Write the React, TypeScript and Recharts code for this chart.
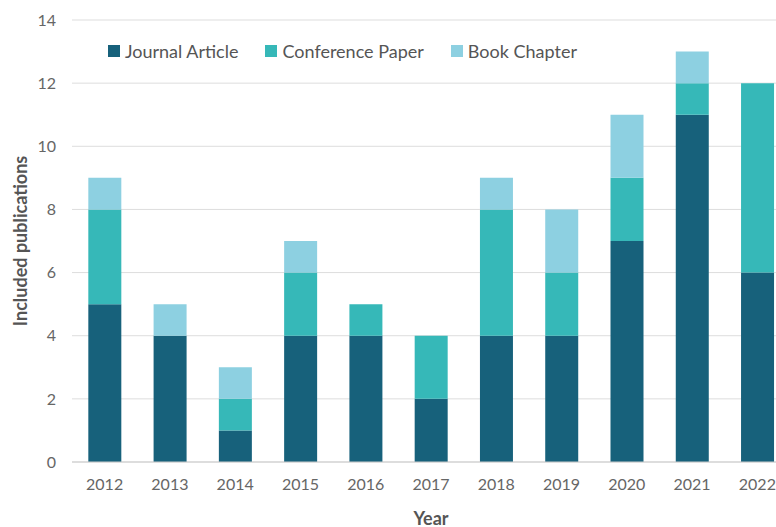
import React from 'react';
import { BarChart, Bar, XAxis, YAxis, CartesianGrid, Label } from 'recharts';

const years = ['2012', '2013', '2014', '2015', '2016', '2017', '2018', '2019', '2020', '2021', '2022'];
const journalArticle = [5, 4, 1, 4, 4, 2, 4, 4, 7, 11, 6];
const conferencePaper = [3, 0, 1, 2, 1, 2, 4, 2, 2, 1, 6];
const bookChapter = [1, 1, 1, 1, 0, 0, 1, 2, 2, 1, 0];
const yTicks = [0, 2, 4, 6, 8, 10, 12, 14];

const series = [
  { key: 'journal', name: 'Journal Article', color: '#17617b' },
  { key: 'conference', name: 'Conference Paper', color: '#36b8b8' },
  { key: 'book', name: 'Book Chapter', color: '#8dd0e1' },
];

const data = years.map((y, i) => ({
  year: y,
  journal: journalArticle[i],
  conference: conferencePaper[i],
  book: bookChapter[i],
}));

const FONT = 'Lato, "Open Sans", sans-serif';

const LegendBox = () => (
  <div style={{ position: 'absolute', top: 39, left: 108, display: 'flex', fontFamily: FONT, fontSize: 18, color: '#555', lineHeight: '24px', whiteSpace: 'nowrap' }}>
    {series.map((s, i) => (
      <div key={s.key} style={{ display: 'flex', alignItems: 'center', marginRight: i < 2 ? 27 : 0 }}>
        <span style={{ display: 'inline-block', width: 12, height: 12, background: s.color, marginRight: 5 }} />
        <span>{s.name}</span>
      </div>
    ))}
  </div>
);

const YLabel = (props: any) => {
  const vb = props.viewBox || {};
  const cy = vb.y + vb.height / 2;
  const x = 20;
  return (
    <text x={x} y={cy} transform={`rotate(-90, ${x}, ${cy})`} textAnchor="middle" dominantBaseline="central" fill="#555" fontSize={18} fontWeight="bold" fontFamily={FONT}>
      Included publications
    </text>
  );
};

export default function App() {
  return (
    <div style={{ position: 'fixed', top: 0, left: 0, width: 776, height: 527, overflow: 'hidden', background: '#fff' }}>
      <BarChart
        width={790}
        height={527}
        data={data}
        margin={{ top: 20, right: 0, bottom: 0, left: 0 }}
        barCategoryGap="25%"
      >
        <CartesianGrid vertical={false} stroke="#dddddd" />
        <XAxis
          dataKey="year"
          height={65}
          tickLine={false}
          axisLine={{ stroke: '#cccccc' }}
          tick={{ fill: '#666', fontSize: 16, fontFamily: FONT }}
          tickMargin={11}
        >
          <Label value="Year" position="insideBottom" offset={2} fill="#555" fontSize={18} fontWeight="bold" fontFamily={FONT} />
        </XAxis>
        <YAxis
          width={72}
          domain={[0, 14]}
          ticks={yTicks}
          interval={0}
          tickLine={false}
          axisLine={false}
          tick={{ fill: '#666', fontSize: 16, fontFamily: FONT }}
          tickMargin={10}
        >
          <Label content={<YLabel />} />
        </YAxis>
        {series.map((s) => (
          <Bar key={s.key} dataKey={s.key} name={s.name} stackId="a" fill={s.color} isAnimationActive={false} />
        ))}
      </BarChart>
      <LegendBox />
    </div>
  );
}
